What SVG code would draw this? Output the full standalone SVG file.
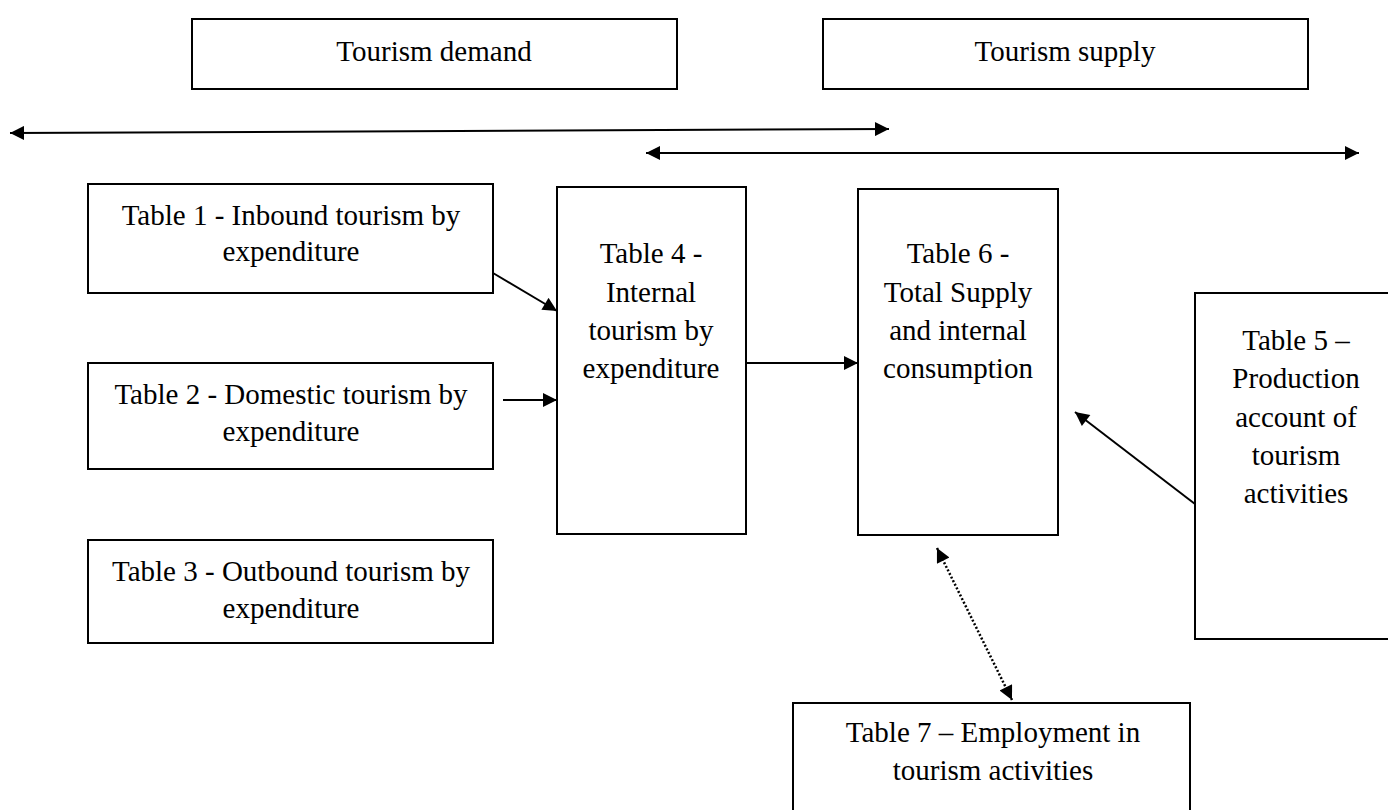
<svg xmlns="http://www.w3.org/2000/svg" width="1388" height="810" viewBox="0 0 1388 810">
<defs>
<style>
.box{fill:#fff;stroke:#000;stroke-width:2}
.t{font-family:"Liberation Serif","Times New Roman",serif;font-size:29px;fill:#000;text-anchor:middle}
.c{stroke:#000;stroke-width:2;fill:none}
.d{stroke:#000;stroke-width:2.5;fill:none;stroke-dasharray:2 2}
</style>
<marker id="ahl" viewBox="0 0 10 10" refX="10" refY="5" markerWidth="16" markerHeight="14" markerUnits="userSpaceOnUse" orient="auto-start-reverse">
<path d="M0,0 L10,5 L0,10 z" fill="#000"/>
</marker>
</defs>
<rect width="1388" height="810" fill="#fff"/>
<g id="demand"><rect class="box" x="192" y="19" width="485" height="70"/><text class="t" x="434" y="61">Tourism demand</text></g>
<g id="supply"><rect class="box" x="823" y="19" width="485" height="70"/><text class="t" x="1065" y="61">Tourism supply</text></g>
<g id="table1"><rect class="box" x="88" y="184" width="405" height="109"/><text class="t" x="291" y="225">Table 1 - Inbound tourism by</text><text class="t" x="291" y="261">expenditure</text></g>
<g id="table2"><rect class="box" x="88" y="363" width="405" height="106"/><text class="t" x="291" y="404">Table 2 - Domestic tourism by</text><text class="t" x="291" y="441">expenditure</text></g>
<g id="table3"><rect class="box" x="88" y="540" width="405" height="103"/><text class="t" x="291" y="581">Table 3 - Outbound tourism by</text><text class="t" x="291" y="618">expenditure</text></g>
<g id="table4"><rect class="box" x="557" y="187" width="189" height="347"/><text class="t" x="651" y="263">Table 4 -</text><text class="t" x="651" y="302">Internal</text><text class="t" x="651" y="340">tourism by</text><text class="t" x="651" y="378">expenditure</text></g>
<g id="table6"><rect class="box" x="858" y="189" width="200" height="346"/><text class="t" x="958" y="263">Table 6 -</text><text class="t" x="958" y="302">Total Supply</text><text class="t" x="958" y="340">and internal</text><text class="t" x="958" y="378">consumption</text></g>
<g id="table5"><rect class="box" x="1195" y="293" width="200" height="346"/><text class="t" x="1296" y="350">Table 5 –</text><text class="t" x="1296" y="388">Production</text><text class="t" x="1296" y="427">account of</text><text class="t" x="1296" y="465">tourism</text><text class="t" x="1296" y="503">activities</text></g>
<g id="table7"><rect class="box" x="793" y="703" width="397" height="130"/><text class="t" x="993" y="742">Table 7 – Employment in</text><text class="t" x="993" y="780">tourism activities</text></g>
<g id="connectors">
<line class="c" x1="10" y1="133" x2="889" y2="129" marker-start="url(#ahl)" marker-end="url(#ahl)"/>
<line class="c" x1="646" y1="153" x2="1359" y2="153" marker-start="url(#ahl)" marker-end="url(#ahl)"/>
<line class="c" x1="493" y1="273" x2="557" y2="311" marker-end="url(#ahl)"/>
<line class="c" x1="503" y1="400" x2="557" y2="400" marker-end="url(#ahl)"/>
<line class="c" x1="746" y1="363" x2="858" y2="363" marker-end="url(#ahl)"/>
<line class="c" x1="1195" y1="504" x2="1075" y2="412" marker-end="url(#ahl)"/>
<line class="d" x1="937" y1="548" x2="1012" y2="700" marker-start="url(#ahl)" marker-end="url(#ahl)"/>
</g>
</svg>
